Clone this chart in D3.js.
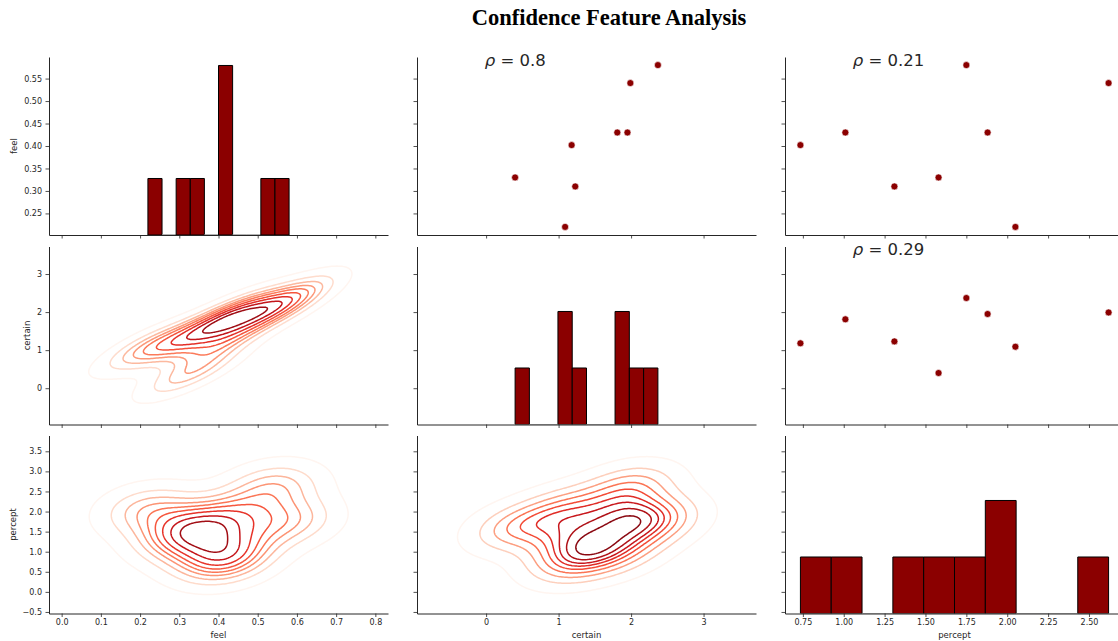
<!DOCTYPE html>
<html>
<head>
<meta charset="utf-8">
<script src="https://cdn.jsdelivr.net/npm/d3@7"></script>
<style>
  body { margin: 0; background: #fff; }
  svg { display: block; font-family: "DejaVu Sans", sans-serif; }
</style>
</head>
<body>
<svg id="chart" width="1118" height="641"></svg>
<script>
// ---- data -------------------------------------------------------------
const variables = ["feel", "certain", "percept"];
const feel    = [0.402, 0.43, 0.31, 0.33, 0.58, 0.43, 0.22, 0.54];
const certain = [1.18, 1.81, 1.23, 0.40, 2.37, 1.95, 1.09, 1.99];
const percept = [0.735, 1.01, 1.31, 1.58, 1.75, 1.88, 2.05, 2.62];

// tick values for the column (x) and row (y) axes of each variable
const feelColTicks    = [0.0, 0.1, 0.2, 0.3, 0.4, 0.5, 0.6, 0.7, 0.8];
const feelRowTicks    = [0.25, 0.30, 0.35, 0.40, 0.45, 0.50, 0.55];
const certainTicks    = [0, 1, 2, 3];
const perceptColTicks = [0.75, 1.00, 1.25, 1.50, 1.75, 2.00, 2.25, 2.50];
const perceptRowTicks = [-0.5, 0.0, 0.5, 1.0, 1.5, 2.0, 2.5, 3.0, 3.5];

const titleText = "Confidence Feature Analysis";
// ColorBrewer "Reds" (9 classes), interpolated linearly
const redsStops = ["#fff5f0", "#fee0d2", "#fcbba1", "#fc9272", "#fb6a4a",
                   "#ef3b2c", "#cb181d", "#a50f15", "#67000d"];
const markColor = "#8b0000";

// ---- layout -----------------------------------------------------------
const colLeft = [49, 417, 785], colWidth = 339;
const rowTop = [57, 246.5, 435.5], rowHeight = 178;
const textColor = "#262626";

const svg = d3.select("#chart");
const values = { feel, certain, percept };
const n = feel.length;
const factor = Math.pow(n, -1 / 6);   // Scott's rule, 2-D
const CUT = 3, GRID = 200, N_BINS = 10;

function kdeExtent(v) {
  const bw = d3.deviation(v) * factor;
  return [d3.min(v) - CUT * bw, d3.max(v) + CUT * bw];
}
function padExtent(v) {
  const [a, b] = d3.extent(v), m = (b - a) * 0.05;
  return [a - m, b + m];
}

const colSpec = {
  feel:    { domain: kdeExtent(feel),    ticks: feelColTicks,    fmt: d3.format(".1f") },
  certain: { domain: kdeExtent(certain), ticks: certainTicks,    fmt: d3.format("d") },
  percept: { domain: padExtent(percept), ticks: perceptColTicks, fmt: d3.format(".2f") }
};
const rowSpec = {
  feel:    { domain: padExtent(feel),    ticks: feelRowTicks,    fmt: d3.format(".2f") },
  certain: { domain: kdeExtent(certain), ticks: certainTicks,    fmt: d3.format("d") },
  percept: { domain: kdeExtent(percept), ticks: perceptRowTicks, fmt: d3.format(".1f") }
};

const xScales = variables.map((v, j) =>
  d3.scaleLinear().domain(colSpec[v].domain).range([colLeft[j], colLeft[j] + colWidth]));
const yScales = variables.map((v, i) =>
  d3.scaleLinear().domain(rowSpec[v].domain).range([rowTop[i] + rowHeight, rowTop[i]]));

// ---- histograms for the diagonal (shared count axis) -------------------
function histBins(v) {
  const [lo, hi] = d3.extent(v);
  const w = (hi - lo) / N_BINS;
  const thresholds = d3.range(1, N_BINS).map(k => lo + k * w);
  return d3.bin().domain([lo, hi]).thresholds(thresholds)(v);
}
const diagBins = variables.map(v => histBins(values[v]));
const maxCount = d3.max(diagBins.flat(), b => b.length);

// ---- 2-D gaussian KDE (full covariance, Scott bandwidth) ---------------
function kde2d(xs, ys) {
  const mx = d3.mean(xs), my = d3.mean(ys);
  let sxx = 0, syy = 0, sxy = 0;
  for (let k = 0; k < n; k++) {
    const dx = xs[k] - mx, dy = ys[k] - my;
    sxx += dx * dx; syy += dy * dy; sxy += dx * dy;
  }
  const f2 = factor * factor;
  const cxx = sxx / (n - 1) * f2, cyy = syy / (n - 1) * f2, cxy = sxy / (n - 1) * f2;
  const det = cxx * cyy - cxy * cxy;
  const ixx = cyy / det, iyy = cxx / det, ixy = -cxy / det;
  const bx = Math.sqrt(cxx), by = Math.sqrt(cyy);
  const x0 = d3.min(xs) - CUT * bx, x1 = d3.max(xs) + CUT * bx;
  const y0 = d3.min(ys) - CUT * by, y1 = d3.max(ys) + CUT * by;
  const sx = (x1 - x0) / (GRID - 1), sy = (y1 - y0) / (GRID - 1);
  const grid = new Float64Array(GRID * GRID);
  for (let j = 0; j < GRID; j++) {
    const gy = y0 + j * sy;
    for (let i = 0; i < GRID; i++) {
      const gx = x0 + i * sx;
      let s = 0;
      for (let k = 0; k < n; k++) {
        const dx = gx - xs[k], dy = gy - ys[k];
        s += Math.exp(-0.5 * (ixx * dx * dx + 2 * ixy * dx * dy + iyy * dy * dy));
      }
      grid[j * GRID + i] = s;
    }
  }
  return { grid, x0, y0, sx, sy };
}

// iso-proportion levels: density value enclosing a given share of the mass
function quantileLevels(grid, props) {
  const sorted = Array.from(grid).sort((a, b) => b - a);
  const total = d3.sum(sorted);
  const cum = [];
  let acc = 0;
  for (const v of sorted) { acc += v; cum.push(acc / total); }
  return props.map(p => {
    const idx = d3.bisectLeft(cum, 1 - p);
    return sorted[Math.min(idx, sorted.length - 1)];
  });
}

const redsScale = d3.scaleLinear()
  .domain(d3.range(redsStops.length).map(k => k / (redsStops.length - 1)))
  .range(redsStops).interpolate(d3.interpolateRgb);

function drawKde(g, xVar, yVar, xs, ys) {
  const k = kde2d(values[xVar], values[yVar]);
  const props = d3.range(N_BINS).map(q => 0.05 + q * (1 - 0.05) / (N_BINS - 1));
  const levels = quantileLevels(k.grid, props);
  const lmin = d3.min(levels), lmax = d3.max(levels);
  const contours = d3.contours().size([GRID, GRID]).thresholds(levels.slice(0, -1))(k.grid);
  const toPx = p => [xs(k.x0 + (p[0] - 0.5) * k.sx), ys(k.y0 + (p[1] - 0.5) * k.sy)];
  g.selectAll("path.kde").data(contours).join("path")
    .attr("class", "kde")
    .attr("fill", "none")
    .attr("stroke", c => redsScale((c.value - lmin) / (lmax - lmin)))
    .attr("stroke-width", 1.5)
    .attr("d", c => c.coordinates.map(poly => poly.map(ring =>
      "M" + ring.map(p => toPx(p).join(",")).join("L") + "Z").join("")).join(""));
}

function pearson(a, b) {
  const ma = d3.mean(a), mb = d3.mean(b);
  let sab = 0, saa = 0, sbb = 0;
  for (let k = 0; k < a.length; k++) {
    sab += (a[k] - ma) * (b[k] - mb);
    saa += (a[k] - ma) ** 2;
    sbb += (b[k] - mb) ** 2;
  }
  return sab / Math.sqrt(saa * sbb);
}

// ---- panels ------------------------------------------------------------
variables.forEach((rowVar, i) => {
  variables.forEach((colVar, j) => {
    const xs = xScales[j], ys = yScales[i];
    const g = svg.append("g").attr("class", `panel-${i}-${j}`);
    const clipId = `clip-${i}-${j}`;
    svg.append("clipPath").attr("id", clipId).append("rect")
      .attr("x", colLeft[j]).attr("y", rowTop[i])
      .attr("width", colWidth).attr("height", rowHeight);
    const body = g.append("g").attr("clip-path", `url(#${clipId})`);

    if (i === j) {
      const hy = d3.scaleLinear().domain([0, maxCount * 1.05])
        .range([rowTop[i] + rowHeight, rowTop[i]]);
      body.selectAll("path.bar").data(diagBins[i]).join("path")
        .attr("class", "bar")
        .attr("fill", markColor)
        .attr("stroke", b => b.length ? "#000" : "#999")
        .attr("stroke-width", 1)
        .attr("d", b => `M${xs(b.x0)},${hy(0)}V${hy(b.length)}H${xs(b.x1)}V${hy(0)}Z`);
    } else if (j > i) {
      body.selectAll("circle").data(d3.range(n)).join("circle")
        .attr("cx", k => xs(values[colVar][k]))
        .attr("cy", k => ys(values[rowVar][k]))
        .attr("r", 3.5)
        .attr("fill", markColor)
        .attr("stroke", "#fff")
        .attr("stroke-width", 0.6);
      const r = pearson(values[colVar], values[rowVar]);
      const t = g.append("text")
        .attr("x", colLeft[j] + 0.2 * colWidth)
        .attr("y", rowTop[i] + rowHeight - 0.95 * rowHeight)
        .attr("font-size", 16.5)
        .attr("fill", textColor);
      t.append("tspan").attr("font-style", "italic").text("ρ");
      t.append("tspan").text(" = " + d3.format(".2")(r));
    } else {
      drawKde(body, colVar, rowVar, xs, ys);
    }

    // x axis (bottom spine)
    const xAxis = d3.axisBottom(xs).tickValues(colSpec[colVar].ticks)
      .tickSize(3.5).tickSizeOuter(0).tickPadding(2.5)
      .tickFormat(i === variables.length - 1 ? colSpec[colVar].fmt : () => "");
    const gx = g.append("g").attr("transform", `translate(0,${rowTop[i] + rowHeight})`).call(xAxis);
    // y axis (left spine)
    const yAxis = d3.axisLeft(ys).tickValues(rowSpec[rowVar].ticks)
      .tickSize(3.5).tickSizeOuter(0).tickPadding(3.5)
      .tickFormat(j === 0 ? rowSpec[rowVar].fmt : () => "");
    const gy = g.append("g").attr("transform", `translate(${colLeft[j]},0)`).call(yAxis);

    [gx, gy].forEach(ax => {
      ax.select(".domain").attr("stroke", textColor).attr("stroke-width", 1);
      ax.selectAll(".tick line").attr("stroke", textColor).attr("stroke-width", 0.8);
      ax.selectAll(".tick text").attr("fill", textColor)
        .attr("font-size", 8).attr("font-family", "DejaVu Sans, sans-serif");
    });

    if (j === 0) {
      const bb = gy.node().getBBox();
      svg.append("text")
        .attr("transform", `translate(${colLeft[0] + bb.x - 7},${rowTop[i] + rowHeight / 2}) rotate(-90)`)
        .attr("text-anchor", "middle")
        .attr("font-size", 8.5)
        .attr("fill", textColor)
        .text(rowVar);
    }
    if (i === variables.length - 1) {
      svg.append("text")
        .attr("x", colLeft[j] + colWidth / 2)
        .attr("y", rowTop[i] + rowHeight + 24)
        .attr("text-anchor", "middle")
        .attr("font-size", 8.5)
        .attr("fill", textColor)
        .text(colVar);
    }
  });
});

// ---- title -------------------------------------------------------------
svg.append("text")
  .attr("x", 609)
  .attr("y", 25)
  .attr("text-anchor", "middle")
  .attr("font-family", "Liberation Serif, serif")
  .attr("font-weight", "bold")
  .attr("font-size", 22.5)
  .attr("fill", "#000")
  .text(titleText);
</script>
</body>
</html>
